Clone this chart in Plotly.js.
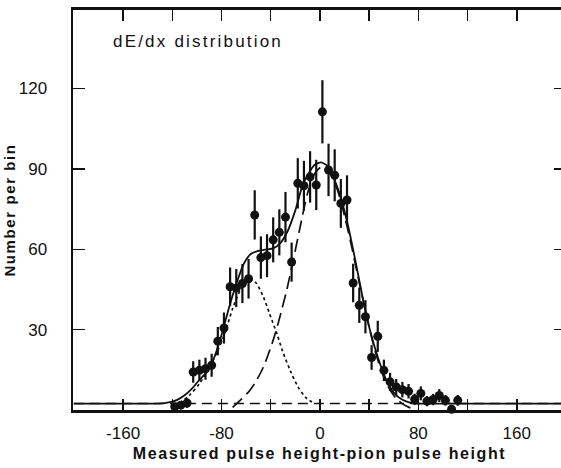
<!DOCTYPE html>
<html>
<head>
<meta charset="utf-8">
<script src="https://cdn.plot.ly/plotly-3.0.1.min.js"></script>
<style>
  html, body { margin: 0; padding: 0; background: #fff; overflow: hidden; }
  #chart { width: 566px; height: 468px; }
  text.xtitle, text.ytitle { letter-spacing: 1.6px; }
  text.annotation-text { letter-spacing: 2.2px; }
</style>
</head>
<body>
<div id="chart"></div>
<script>
// Histogram of dE/dx: measured pulse height minus pion pulse height, 5-unit bins
const binCenters = [-118, -113, -108, -103, -98, -93, -88, -83, -78, -73, -68, -63, -58, -53,
  -48, -43, -38, -33, -28, -23, -18, -13, -8, -3, 2, 7, 12, 17, 22, 27, 32, 37, 42, 47,
  52, 57, 62, 67, 72, 77, 82, 87, 92, 97, 102, 107, 112];
const counts = [1.2, 1.8, 2.6, 14.2, 14.8, 15.4, 16.7, 25.7, 30.6, 46, 45.5, 47.2, 49, 72.8,
  56.9, 57.6, 63.5, 66.3, 72, 55.2, 84.6, 83.7, 87, 84, 111.3, 89.6, 87.6, 77.1, 78.4, 47.4,
  39.1, 34.8, 19.6, 27.5, 14.8, 10.5, 8.6, 7.6, 7, 4, 6.2, 3.3, 3.9, 5.4, 3.6, 0.3, 3.6];
const countErrors = [1.2, 1.5, 1.8, 4.0, 4.0, 4.1, 4.3, 5.3, 5.8, 7.2, 7.1, 7.3, 7.4, 9.2,
  7.9, 8.0, 8.4, 8.6, 9.4, 7.3, 9.4, 9.3, 9.6, 9.4, 11.8, 9.8, 9.7, 9.1, 9.2, 7.2,
  6.6, 6.2, 4.6, 5.8, 4.0, 3.4, 3.0, 2.9, 2.7, 2.1, 2.6, 1.9, 2.1, 2.4, 2.0, 0.7, 2.0];

// Combined fit (solid)
const totalX = [-200, -170, -145, -132, -126, -121, -116, -110, -104, -98, -92, -86, -80, -74,
  -68, -62, -56, -50, -44, -38, -32, -26, -20, -14, -8, -4, 1, 6, 11, 17, 23, 29, 35, 41, 47,
  53, 60, 67, 74, 82, 100, 140, 200];
const totalY = [2.4, 2.4, 2.4, 2.4, 2.6, 3.0, 3.8, 5.5, 8, 11.2, 14.2, 19.5, 28, 38,
  47, 54.5, 58.3, 59.4, 59.9, 60.3, 62.4, 67, 74.5, 84, 89.2, 91.6, 92.4, 91.1, 86.8, 79.2,
  68.5, 55.3, 41.4, 29.2, 19.8, 12.2, 6.5, 3.8, 2.7, 2.4, 2.4, 2.4, 2.4];

// Low-side component plus background (dotted)
const lowX = [-114, -106, -98, -90, -83, -77, -71, -65, -60, -56, -52, -46, -41, -35, -30, -24, -18, -11, -5];
const lowY = [2.6, 5.5, 9.8, 15.7, 22.3, 29, 37.8, 44.5, 47.8, 48.5, 47.5, 42.2, 36, 28.5, 21.5, 14.6, 8.8, 4.4, 2.6];

// Pion component (long dashes)
const pionX = [-71, -64, -57, -51, -46, -41, -36, -31, -27, -22, -16, -10, -4, 2, 8, 14, 20,
  26, 32, 38, 44, 50, 56, 62, 68, 73, 77];
const pionY = [1, 4, 7.3, 11.5, 16, 22, 29, 37.5, 44.7, 55.2, 68.5, 81, 88.5, 90.8, 88.6, 82.4,
  72.5, 60.5, 47.5, 35, 23.5, 14.5, 8.3, 4.3, 2, 0.9, 0.3];

// Flat background level (short dashes)
const bgX = [-200, 200];
const bgY = [2.4, 2.4];

const xTicks = [-160, -120, -80, -40, 0, 40, 80, 120, 160];
const xTickText = ['-160', '', '-80', '', '0', '', '80', '', '160'];
const yTicks = [30, 60, 90, 120];
const yTickText = ['30', '60', '90', '120'];

const ink = '#111';
const face = 'Liberation Sans, Arial, sans-serif';

const traces = [
  { x: bgX, y: bgY, mode: 'lines', line: { color: ink, width: 1.5, dash: '10px,6px' }, hoverinfo: 'skip' },
  { x: pionX, y: pionY, mode: 'lines', line: { color: ink, width: 1.7, dash: '13px,6px', shape: 'spline', smoothing: 0.8 } },
  { x: lowX, y: lowY, mode: 'lines', line: { color: ink, width: 1.7, dash: '3px,3px', shape: 'spline', smoothing: 0.8 } },
  { x: totalX, y: totalY, mode: 'lines', line: { color: ink, width: 1.8, shape: 'spline', smoothing: 0.6 } },
  {
    x: binCenters, y: counts, mode: 'markers', cliponaxis: false,
    marker: { color: ink, size: 9, symbol: 'circle' },
    error_y: { type: 'data', array: countErrors, visible: true, color: ink, thickness: 2.2, width: 0 }
  }
];

const layout = {
  width: 566, height: 468,
  margin: { l: 73, r: 0, t: 10, b: 58 },
  paper_bgcolor: '#fff', plot_bgcolor: '#fff',
  showlegend: false,
  xaxis: {
    range: [-200.7, 200], showgrid: false, zeroline: false,
    showline: true, linewidth: 3, linecolor: ink, mirror: 'ticks',
    ticks: 'inside', ticklen: 11, tickwidth: 1.5, tickcolor: ink,
    tickvals: xTicks, ticktext: xTickText,
    tickfont: { family: face, size: 17, color: ink },
    ticklabelstandoff: 6,
    title: { text: 'Measured pulse height-pion pulse height', font: { family: face, size: 16, color: ink, weight: 'bold' }, standoff: 6 }
  },
  yaxis: {
    range: [0, 149.3], showgrid: false, zeroline: false,
    showline: true, linewidth: 2.5, linecolor: ink, mirror: 'ticks',
    ticks: 'inside', ticklen: 12, tickwidth: 1.5, tickcolor: ink,
    tickvals: yTicks, ticktext: yTickText,
    tickfont: { family: face, size: 17, color: ink },
    ticklabelstandoff: 20,
    title: { text: 'Number per bin', font: { family: face, size: 15, color: ink, weight: 'bold' }, standoff: 0 }
  },
  annotations: [{
    xref: 'paper', yref: 'paper', x: 0.077, y: 0.92, xanchor: 'left', yanchor: 'middle',
    text: 'dE/dx distribution', showarrow: false,
    font: { family: face, size: 17, color: ink }
  }]
};

Plotly.newPlot('chart', traces, layout, { staticPlot: true, displayModeBar: false });
</script>
</body>
</html>
